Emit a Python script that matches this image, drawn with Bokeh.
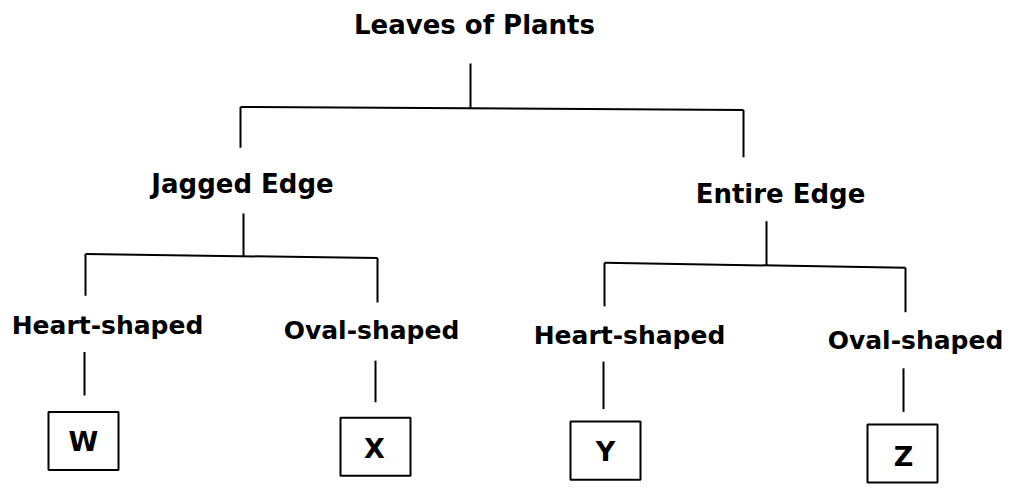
from bokeh.plotting import figure
from bokeh.models import Range1d, ColumnDataSource
from bokeh.embed import file_html
from bokeh.resources import INLINE
from bokeh.core.properties import value

# ---- content (tree structure) ----
root_label = ["Leaves of Plants"]
branch_labels = ["Jagged Edge", "Entire Edge"]
shape_labels = ["Heart-shaped", "Oval-shaped", "Heart-shaped", "Oval-shaped"]
shape_parent = [0, 0, 1, 1]
leaf_labels = ["W", "X", "Y", "Z"]

# ---- layout (pixel-like units, y grows downward) ----
ROOT_TEXT = (474, 32)              # centre x, baseline y
ROOT_STEM_X, ROOT_STEM_TOP = 470, 65
ROOT_BAR_Y = (110, 113)            # left end, right end
BRANCH_TEXT_X = [242, 780]
BRANCH_TEXT_BASE = [197, 207]
BRANCH_DROP_X = [240, 743]
BRANCH_DROP_END = [152, 162]
BRANCH_STEM_X = [243, 766]
BRANCH_STEM_TOP = [220, 228]
BRANCH_BAR_Y = [(262, 266), (271, 276)]
SHAPE_TEXT_X = [107, 371, 629, 915]
SHAPE_TEXT_BASE = [343, 348, 353, 358]
SHAPE_DROP_X = [85, 377, 604, 905]
SHAPE_DROP_END = [305, 312, 316, 322]
LEAF_STEM_X = [84, 375, 603, 903]
LEAF_STEM_TOP = [363, 372, 373, 380]
LEAF_STEM_BOTTOM = [408, 415, 422, 425]
LEAF_BOX_X = [83, 375, 605, 902]
LEAF_BOX_Y = [455, 461, 465, 468]
LEAF_TEXT_X = [83, 374, 605, 903]
LEAF_TEXT_BASE = [463, 470, 473, 478]
LEAF_W, LEAF_H = 70, 60
TEXT_SHIFT = -7                    # baseline correction for the text renderer

FONT = value("DejaVu Sans")

p = figure(width=1005, height=484, output_backend="svg", toolbar_location=None,
           x_range=Range1d(0, 1005), y_range=Range1d(500, 0),
           min_border=0, background_fill_color="white", border_fill_color="white")
p.axis.visible = False
p.grid.visible = False
p.outline_line_color = None

# ---- connectors derived from the tree ----
x0, y0, x1, y1 = [], [], [], []
def seg(a, b, c, d):
    x0.append(a); y0.append(b); x1.append(c); y1.append(d)

# root stem and bar
seg(ROOT_STEM_X, ROOT_STEM_TOP, ROOT_STEM_X, (ROOT_BAR_Y[0] + ROOT_BAR_Y[1]) / 2)
seg(BRANCH_DROP_X[0], ROOT_BAR_Y[0], BRANCH_DROP_X[-1], ROOT_BAR_Y[1])
for i in range(len(branch_labels)):
    bar_y = ROOT_BAR_Y[0] + (ROOT_BAR_Y[1] - ROOT_BAR_Y[0]) * i / (len(branch_labels) - 1)
    seg(BRANCH_DROP_X[i], bar_y, BRANCH_DROP_X[i], BRANCH_DROP_END[i])

for b in range(len(branch_labels)):
    kids = [k for k, par in enumerate(shape_parent) if par == b]
    ly, ry = BRANCH_BAR_Y[b]
    mid = (ly + ry) / 2
    seg(BRANCH_STEM_X[b], BRANCH_STEM_TOP[b], BRANCH_STEM_X[b], mid)
    seg(SHAPE_DROP_X[kids[0]], ly, SHAPE_DROP_X[kids[-1]], ry)
    for j, k in enumerate(kids):
        yy = ly + (ry - ly) * j / (len(kids) - 1)
        seg(SHAPE_DROP_X[k], yy, SHAPE_DROP_X[k], SHAPE_DROP_END[k])

for k in range(len(leaf_labels)):
    seg(LEAF_STEM_X[k], LEAF_STEM_TOP[k], LEAF_STEM_X[k], LEAF_STEM_BOTTOM[k])

p.segment(x0=x0, y0=y0, x1=x1, y1=y1, line_color="black", line_width=2)

# ---- leaf boxes ----
p.rect(x=LEAF_BOX_X, y=LEAF_BOX_Y, width=LEAF_W, height=LEAF_H,
       fill_color="white", line_color="black", line_width=2)

# ---- texts ----
def texts(xs, ys, labels, size):
    src = ColumnDataSource(dict(x=xs, y=[v + TEXT_SHIFT for v in ys], t=labels))
    p.text(x="x", y="y", text="t", source=src, text_font=FONT,
           text_font_style="bold", text_font_size=size, text_color="black",
           text_align="center", text_baseline="alphabetic")

texts([ROOT_TEXT[0]], [ROOT_TEXT[1]], root_label, "26px")
texts(BRANCH_TEXT_X, BRANCH_TEXT_BASE, branch_labels, "26px")
texts(SHAPE_TEXT_X, SHAPE_TEXT_BASE, shape_labels, "25px")
texts(LEAF_TEXT_X, LEAF_TEXT_BASE, leaf_labels, "27px")

open("out.html", "w").write(file_html(p, INLINE))
